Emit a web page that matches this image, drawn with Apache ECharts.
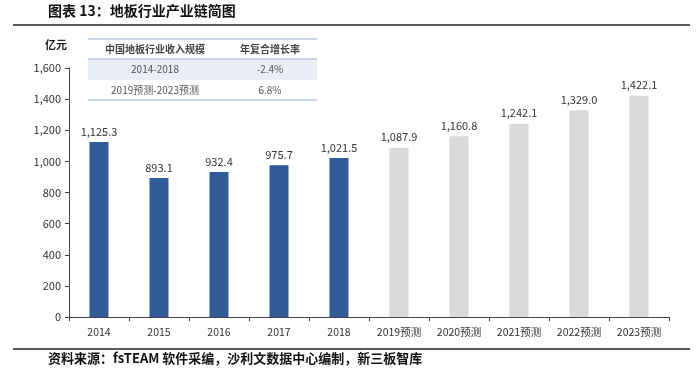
<!DOCTYPE html>
<html><head><meta charset="utf-8">
<script src="https://cdn.jsdelivr.net/npm/echarts@6/dist/echarts.min.js"></script>
<style>html,body{margin:0;padding:0;background:#fff}#c{width:700px;height:373px}</style>
</head><body><div id="c"></div>
<script>
const categories = ['2014','2015','2016','2017','2018','2019预测','2020预测','2021预测','2022预测','2023预测'];
const actualValues = [1125.3, 893.1, 932.4, 975.7, 1021.5, null, null, null, null, null];
const forecastValues = [null, null, null, null, null, 1087.9, 1160.8, 1242.1, 1329.0, 1422.1];
const yTicks = {min: 0, max: 1600, interval: 200};
const tableHeader = ['中国地板行业收入规模', '年复合增长率'];
const tableRows = [['2014-2018', '-2.4%'], ['2019预测-2023预测', '6.8%']];

const fmt = v => v.toLocaleString('en-US', {minimumFractionDigits: 1, maximumFractionDigits: 1});
const font = '"Noto Sans CJK SC", "Noto Sans", sans-serif';
const chart = echarts.init(document.getElementById('c'));

const tx0 = 88, tx1 = 317, c1 = 155, c2 = 270;
const rowY = [39, 59, 80, 100];
const tableGraphics = [
  {type:'rect', shape:{x:tx0, y:rowY[1], width:tx1-tx0, height:rowY[2]-rowY[1]}, style:{fill:'#e9eef7'}},
  {type:'line', shape:{x1:tx0, y1:rowY[0], x2:tx1, y2:rowY[0]}, style:{stroke:'#b9c7dd', lineWidth:1.5}},
  {type:'line', shape:{x1:tx0, y1:rowY[1], x2:tx1, y2:rowY[1]}, style:{stroke:'#b9c7dd', lineWidth:1.5}},
  {type:'line', shape:{x1:tx0, y1:rowY[3], x2:tx1, y2:rowY[3]}, style:{stroke:'#b9c7dd', lineWidth:1.5}},
  {type:'text', x:c1, y:(rowY[0]+rowY[1])/2, style:{text:tableHeader[0], font:'bold 10px '+font, fill:'#444', align:'center', verticalAlign:'middle'}},
  {type:'text', x:c2, y:(rowY[0]+rowY[1])/2, style:{text:tableHeader[1], font:'bold 10px '+font, fill:'#444', align:'center', verticalAlign:'middle'}},
];
tableRows.forEach((r, i) => {
  const y = (rowY[i+1] + rowY[i+2]) / 2;
  tableGraphics.push({type:'text', x:c1, y:y, style:{text:r[0], font:'10px '+font, fill:'#555', align:'center', verticalAlign:'middle'}});
  tableGraphics.push({type:'text', x:c2, y:y, style:{text:r[1], font:'10px '+font, fill:'#555', align:'center', verticalAlign:'middle'}});
});

chart.setOption({
  animation: false,
  backgroundColor: '#fff',
  grid: {left: 69, right: 31, top: 68, bottom: 56},
  graphic: [
    {type:'text', left: 48, top: 4, style:{text:'图表 13：地板行业产业链简图', font:'bold 14px '+font, fill:'#111'}},
    {type:'line', shape:{x1:13, y1:25, x2:690, y2:25}, style:{stroke:'#222', lineWidth:1.5}},
    {type:'line', shape:{x1:13, y1:349, x2:690, y2:349}, style:{stroke:'#222', lineWidth:1.5}},
    {type:'text', left: 48, top: 352, style:{text:'资料来源：fsTEAM 软件采编，沙利文数据中心编制，新三板智库', font:'bold 13px '+font, fill:'#111'}},
    ...tableGraphics
  ],
  xAxis: {
    type: 'category', data: categories,
    axisLine: {lineStyle: {color: '#444', width: 1}},
    axisTick: {show: true, inside: false, length: 4, lineStyle: {color: '#444'}},
    axisLabel: {color: '#333', fontSize: 10.5, fontFamily: font, margin: 10, interval: 0, hideOverlap: false}
  },
  yAxis: {
    type: 'value', min: yTicks.min, max: yTicks.max, interval: yTicks.interval,
    name: '亿元', nameLocation: 'end', nameGap: 18,
    nameTextStyle: {color: '#222', fontSize: 11, fontWeight: 'bold', fontFamily: font, align: 'right', padding: [0, 2, 0, 0]},
    axisLine: {show: true, lineStyle: {color: '#444'}},
    axisTick: {show: true, length: 4, lineStyle: {color: '#444'}},
    splitLine: {show: false},
    axisLabel: {color: '#333', fontSize: 11, fontFamily: font, margin: 8, formatter: v => v.toLocaleString('en-US')}
  },
  series: [
    {type: 'bar', data: actualValues, barWidth: 19, barGap: '-100%', itemStyle: {color: '#2f5b96'},
     label: {show: true, position: 'top', distance: 5, color: '#333', fontSize: 11, fontFamily: font, formatter: p => fmt(p.value)}},
    {type: 'bar', data: forecastValues, barWidth: 19, barGap: '-100%', itemStyle: {color: '#d9d9d9'},
     label: {show: true, position: 'top', distance: 5, color: '#333', fontSize: 11, fontFamily: font, formatter: p => fmt(p.value)}}
  ]
});
</script></body></html>
